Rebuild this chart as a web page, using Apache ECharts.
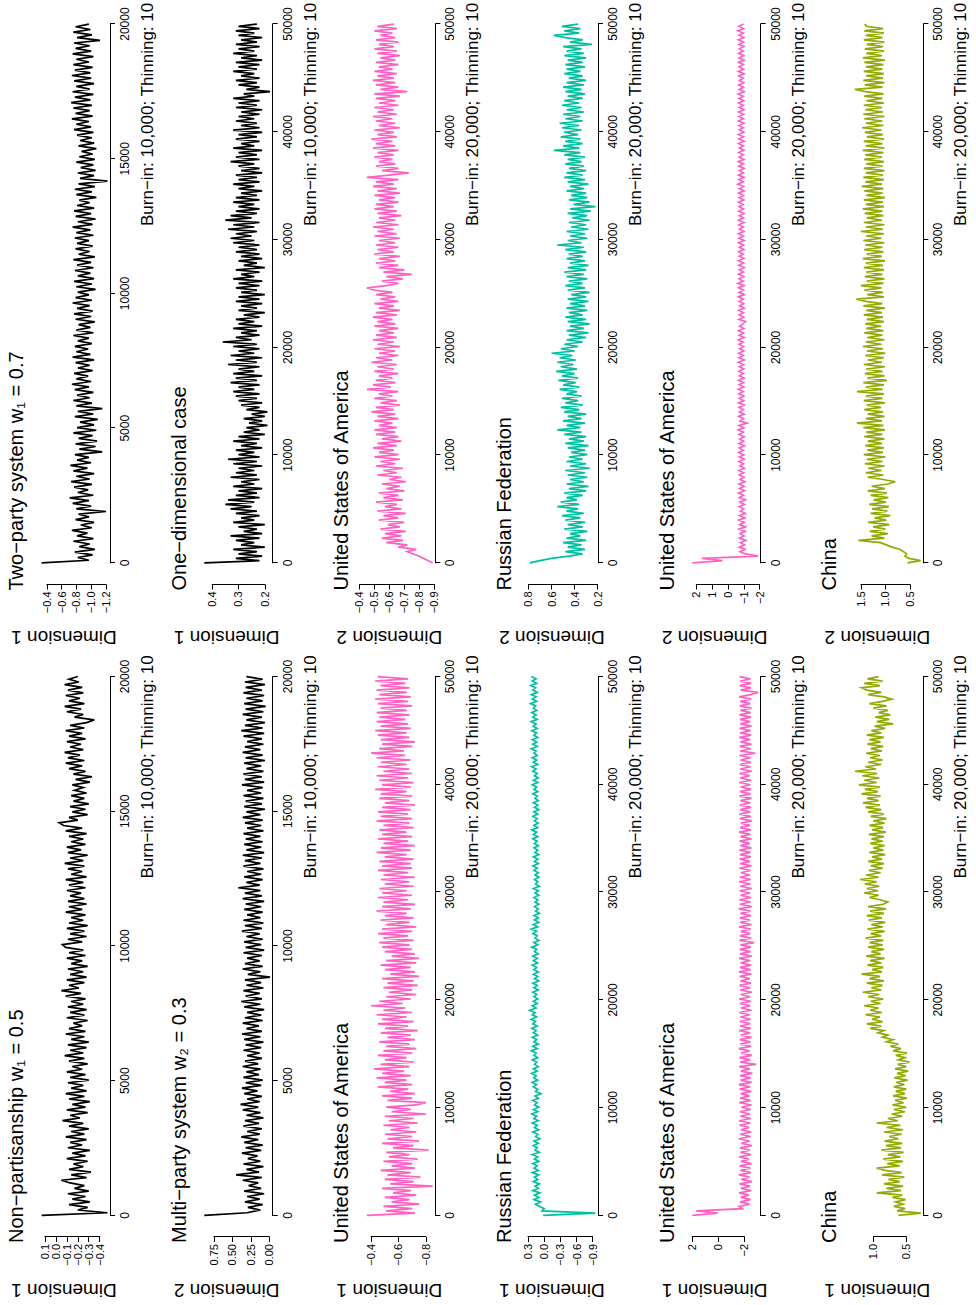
<!DOCTYPE html>
<html><head><meta charset="utf-8">
<script src="https://cdn.jsdelivr.net/npm/echarts/dist/echarts.min.js"></script>
<style>
html,body{margin:0;padding:0;background:#fff;overflow:hidden;width:976px;height:1305px;}
#wrap{position:absolute;left:0;top:0;width:1305px;height:976px;transform-origin:0 0;transform:translateY(1305px) rotate(-90deg);background:#fff;}
</style></head><body>
<div id="wrap"></div>
<script>
// ---------------- data ----------------
const nonPartisanDim1 = [
0.13,-0.47,-0.20,-0.29,-0.12,-0.31,-0.15,-0.27,-0.11,-0.30,-0.17,-0.26,-0.13,-0.05,-0.28,-0.14,-0.32,-0.12,-0.25,-0.16,
-0.29,-0.10,-0.27,-0.15,-0.31,-0.11,-0.24,-0.13,-0.28,-0.09,-0.26,-0.14,-0.30,-0.12,-0.25,-0.06,-0.22,-0.13,-0.29,-0.10,
-0.27,-0.15,-0.31,-0.12,-0.26,-0.09,-0.28,-0.14,-0.25,-0.11,-0.30,-0.13,-0.27,-0.10,-0.24,-0.15,-0.29,-0.12,-0.26,-0.08,
-0.25,-0.13,-0.28,-0.11,-0.30,-0.14,-0.26,-0.09,-0.27,-0.12,-0.24,-0.16,-0.29,-0.10,-0.26,-0.13,-0.28,-0.11,-0.25,-0.14,
-0.27,-0.09,-0.23,-0.05,-0.21,-0.12,-0.26,-0.10,-0.28,-0.13,-0.25,-0.11,-0.29,-0.14,-0.24,-0.10,-0.27,-0.12,-0.25,-0.09,
-0.06,-0.24,-0.11,-0.28,-0.13,-0.26,-0.10,-0.29,-0.12,-0.25,-0.14,-0.27,-0.09,-0.24,-0.12,-0.28,-0.11,-0.26,-0.13,-0.23,
-0.10,-0.27,-0.12,-0.25,-0.09,-0.28,-0.14,-0.24,-0.11,-0.26,-0.08,-0.25,-0.13,-0.29,-0.11,-0.23,-0.10,-0.27,-0.14,-0.25,
-0.12,-0.28,-0.09,-0.24,-0.07,-0.03,-0.20,-0.12,-0.29,-0.15,-0.27,-0.13,-0.30,-0.16,-0.26,-0.14,-0.28,-0.17,-0.25,-0.15,
-0.31,-0.18,-0.33,-0.16,-0.27,-0.12,-0.24,-0.09,-0.26,-0.11,-0.22,-0.08,-0.25,-0.13,-0.23,-0.10,-0.27,-0.12,-0.24,-0.09,
-0.26,-0.13,-0.28,-0.35,-0.17,-0.25,-0.10,-0.23,-0.08,-0.26,-0.12,-0.22,-0.09,-0.25,-0.11,-0.24,-0.08,-0.21,-0.12,-0.20];
const twoPartyDim1 = [
-0.33,-0.97,-0.82,-1.02,-0.78,-1.05,-0.84,-0.98,-0.76,-1.03,-0.81,-0.95,-0.74,-1.01,-0.86,-1.04,-0.79,-0.97,-0.83,-1.20,
-0.80,-1.00,-0.75,-0.97,-0.71,-1.03,-0.82,-0.96,-0.77,-1.01,-0.73,-0.98,-0.80,-1.04,-0.76,-0.95,-0.72,-1.00,-0.81,-0.97,
-0.78,-1.15,-0.84,-1.06,-0.79,-1.08,-0.83,-1.02,-0.76,-1.07,-0.81,-1.04,-0.85,-1.09,-0.78,-1.03,-0.82,-1.15,-0.80,-1.01,
-0.76,-0.98,-0.81,-1.03,-0.78,-0.97,-0.74,-1.00,-0.80,-0.96,-0.77,-1.02,-0.82,-0.98,-0.79,-1.04,-0.75,-0.99,-0.80,-0.96,
-0.78,-1.01,-0.82,-0.97,-0.76,-1.03,-0.80,-0.99,-0.83,-1.05,-0.79,-1.00,-0.77,-1.02,-0.81,-0.98,-0.75,-1.01,-0.79,-0.97,
-0.82,-1.06,-0.80,-1.01,-0.77,-1.04,-0.82,-0.99,-0.78,-1.03,-0.81,-1.00,-0.76,-1.05,-0.83,-0.98,-0.79,-1.02,-0.81,-0.97,
-0.78,-1.03,-0.80,-0.99,-0.75,-1.02,-0.82,-1.06,-0.79,-1.00,-0.77,-1.04,-0.81,-0.98,-0.84,-1.07,-0.80,-1.01,-0.78,-1.05,
-0.83,-1.22,-0.85,-1.04,-0.82,-1.06,-0.86,-1.03,-0.80,-1.05,-0.84,-1.02,-0.87,-1.07,-0.83,-1.04,-0.85,-1.01,-0.81,-1.03,
-0.77,-1.00,-0.80,-0.97,-0.74,-1.02,-0.79,-0.98,-0.76,-1.01,-0.73,-0.99,-0.78,-1.03,-0.75,-0.98,-0.80,-1.04,-0.77,-1.00,
-0.74,-0.99,-0.78,-1.02,-0.76,-0.97,-0.80,-1.03,-0.75,-1.00,-0.79,-0.98,-0.77,-1.12,-0.81,-1.01,-0.76,-0.99,-0.79,-0.97];
const multiPartyDim2 = [
0.88,0.30,0.12,0.29,0.09,0.33,0.13,0.30,0.07,0.34,0.11,0.28,0.15,0.36,0.10,0.45,0.14,0.31,0.08,0.35,
0.12,0.29,0.16,0.37,0.11,0.32,0.09,0.34,0.15,0.38,0.13,0.30,0.10,0.35,0.14,0.33,0.08,0.31,0.12,0.36,
0.15,0.39,0.13,0.30,0.10,0.34,0.16,0.37,0.11,0.32,0.09,0.35,0.14,0.31,0.12,0.36,0.15,0.33,0.10,0.30,
0.13,0.35,0.11,0.32,0.08,0.34,0.12,0.37,0.10,0.31,0.14,0.36,0.09,0.33,0.11,0.30,0.07,0.34,0.12,0.38,
0.10,0.32,0.13,0.35,0.08,0.31,0.11,0.33,-0.01,0.29,0.12,0.36,0.09,0.33,0.13,0.30,0.10,0.35,0.07,0.32,
0.11,0.34,0.09,0.31,0.13,0.37,0.10,0.33,0.08,0.35,0.12,0.30,0.09,0.34,0.11,0.32,0.07,0.36,0.10,0.33,
0.12,0.42,0.13,0.31,0.09,0.34,0.11,0.30,0.08,0.35,0.12,0.33,0.10,0.36,0.07,0.31,0.11,0.34,0.09,0.32,
0.12,0.35,0.08,0.30,0.11,0.33,0.09,0.36,0.12,0.31,0.06,0.34,0.10,0.32,0.08,0.35,0.11,0.30,0.09,0.37,
0.07,0.33,0.10,0.35,0.08,0.31,0.11,0.34,0.06,0.32,0.09,0.36,0.12,0.33,0.08,0.30,0.10,0.35,0.07,0.38,
0.09,0.33,0.06,0.31,0.10,0.36,0.08,0.32,0.05,0.34,0.09,0.31,0.07,0.35,0.10,0.32,0.06,0.33,0.09,0.31];
const oneDimDim1 = [
0.43,0.22,0.31,0.21,0.30,0.23,0.32,0.20,0.29,0.24,0.31,0.22,0.33,0.21,0.28,0.23,0.30,0.20,0.32,0.24,
0.29,0.22,0.31,0.23,0.33,0.25,0.35,0.24,0.34,0.22,0.31,0.23,0.30,0.21,0.32,0.24,0.29,0.22,0.33,0.23,
0.31,0.24,0.30,0.21,0.32,0.23,0.34,0.22,0.30,0.24,0.31,0.21,0.29,0.23,0.32,0.22,0.30,0.20,0.28,0.22,
0.27,0.19,0.26,0.21,0.28,0.20,0.25,0.19,0.27,0.22,0.29,0.21,0.30,0.23,0.31,0.22,0.32,0.24,0.30,0.22,
0.33,0.23,0.31,0.21,0.32,0.24,0.30,0.22,0.34,0.23,0.31,0.21,0.33,0.24,0.30,0.22,0.32,0.23,0.36,0.25,
0.31,0.22,0.29,0.23,0.32,0.21,0.30,0.24,0.31,0.22,0.28,0.20,0.30,0.23,0.29,0.21,0.31,0.22,0.30,0.20,
0.29,0.23,0.31,0.22,0.30,0.21,0.32,0.24,0.29,0.22,0.31,0.20,0.28,0.23,0.30,0.21,0.29,0.22,0.31,0.23,
0.30,0.22,0.32,0.24,0.33,0.25,0.31,0.23,0.34,0.24,0.32,0.22,0.35,0.25,0.33,0.23,0.31,0.22,0.30,0.24,
0.32,0.22,0.31,0.23,0.29,0.21,0.30,0.24,0.32,0.22,0.30,0.23,0.31,0.21,0.29,0.22,0.30,0.24,0.33,0.22,
0.31,0.23,0.30,0.21,0.32,0.24,0.29,0.22,0.31,0.23,0.30,0.21,0.32,0.22,0.29,0.23,0.31,0.24,0.30,0.22,
0.29,0.21,0.31,0.23,0.30,0.22,0.32,0.24,0.28,0.18,0.27,0.22,0.30,0.23,0.31,0.22,0.29,0.24,0.32,0.23,
0.30,0.22,0.31,0.21,0.29,0.23,0.32,0.24,0.30,0.22,0.31,0.23,0.29,0.21,0.30,0.24,0.31,0.22,0.30,0.23];
const usaDim1 = [
-0.37,-0.72,-0.51,-0.70,-0.49,-0.75,-0.55,-0.68,-0.50,-0.73,-0.56,-0.69,-0.48,-0.85,-0.54,-0.71,-0.50,-0.76,-0.52,-0.69,
-0.47,-0.72,-0.55,-0.70,-0.49,-0.74,-0.53,-0.68,-0.51,-0.82,-0.56,-0.71,-0.48,-0.75,-0.52,-0.70,-0.50,-0.73,-0.54,-0.68,
-0.49,-0.74,-0.53,-0.71,-0.50,-0.80,-0.55,-0.69,-0.51,-0.73,-0.80,-0.52,-0.70,-0.48,-0.72,-0.54,-0.67,-0.45,-0.70,-0.50,
-0.66,-0.44,-0.69,-0.48,-0.64,-0.42,-0.68,-0.47,-0.71,-0.50,-0.66,-0.45,-0.70,-0.49,-0.73,-0.51,-0.68,-0.46,-0.72,-0.52,
-0.69,-0.47,-0.74,-0.50,-0.67,-0.45,-0.71,-0.48,-0.66,-0.44,-0.70,-0.49,-0.65,-0.40,-0.63,-0.46,-0.69,-0.51,-0.73,-0.53,
-0.70,-0.49,-0.74,-0.52,-0.71,-0.48,-0.75,-0.54,-0.72,-0.50,-0.69,-0.47,-0.73,-0.51,-0.75,-0.55,-0.72,-0.50,-0.70,-0.48,
-0.68,-0.46,-0.71,-0.49,-0.67,-0.45,-0.70,-0.48,-0.73,-0.51,-0.68,-0.47,-0.71,-0.50,-0.66,-0.44,-0.69,-0.48,-0.72,-0.49,
-0.67,-0.45,-0.70,-0.48,-0.66,-0.46,-0.71,-0.50,-0.68,-0.47,-0.72,-0.49,-0.67,-0.45,-0.70,-0.48,-0.69,-0.46,-0.71,-0.50,
-0.66,-0.44,-0.69,-0.47,-0.72,-0.49,-0.67,-0.45,-0.70,-0.48,-0.66,-0.46,-0.71,-0.49,-0.68,-0.44,-0.70,-0.47,-0.67,-0.45,
-0.69,-0.48,-0.72,-0.50,-0.68,-0.46,-0.70,-0.47,-0.66,-0.43,-0.69,-0.48,-0.71,-0.46,-0.67,-0.44,-0.70,-0.49,-0.68,-0.45,
-0.66,-0.47,-0.69,-0.44,-0.65,-0.40,-0.64,-0.46,-0.70,-0.48,-0.72,-0.47,-0.68,-0.45,-0.66,-0.43,-0.69,-0.47,-0.67,-0.44,
-0.65,-0.46,-0.68,-0.44,-0.66,-0.47,-0.70,-0.45,-0.67,-0.43,-0.69,-0.46,-0.66,-0.44,-0.68,-0.47,-0.65,-0.43,-0.67,-0.45];
const usaDim2 = [
-0.89,-0.86,-0.83,-0.80,-0.76,-0.72,-0.78,-0.66,-0.72,-0.58,-0.69,-0.55,-0.68,-0.57,-0.71,-0.54,-0.67,-0.59,-0.70,-0.53,
-0.66,-0.56,-0.71,-0.52,-0.68,-0.57,-0.65,-0.51,-0.69,-0.56,-0.66,-0.53,-0.70,-0.58,-0.67,-0.55,-0.71,-0.60,-0.68,-0.52,
-0.65,-0.56,-0.69,-0.51,-0.64,-0.54,-0.67,-0.50,-0.66,-0.53,-0.63,-0.49,-0.65,-0.52,-0.68,-0.55,-0.66,-0.51,-0.64,-0.50,
-0.65,-0.53,-0.62,-0.50,-0.66,-0.52,-0.64,-0.48,-0.63,-0.51,-0.67,-0.54,-0.65,-0.50,-0.62,-0.53,-0.66,-0.45,-0.61,-0.49,
-0.64,-0.51,-0.62,-0.53,-0.66,-0.50,-0.63,-0.52,-0.65,-0.48,-0.62,-0.51,-0.66,-0.53,-0.64,-0.50,-0.67,-0.52,-0.63,-0.49,
-0.65,-0.51,-0.63,-0.53,-0.66,-0.50,-0.64,-0.52,-0.62,-0.49,-0.65,-0.51,-0.67,-0.53,-0.63,-0.50,-0.66,-0.54,-0.64,-0.51,
-0.62,-0.50,-0.45,-0.58,-0.66,-0.55,-0.69,-0.58,-0.75,-0.56,-0.70,-0.53,-0.66,-0.51,-0.64,-0.53,-0.67,-0.50,-0.63,-0.52,
-0.66,-0.51,-0.64,-0.53,-0.67,-0.50,-0.65,-0.52,-0.63,-0.49,-0.66,-0.51,-0.64,-0.53,-0.68,-0.52,-0.65,-0.50,-0.63,-0.51,
-0.66,-0.53,-0.64,-0.50,-0.67,-0.52,-0.65,-0.49,-0.63,-0.51,-0.66,-0.45,-0.60,-0.73,-0.55,-0.66,-0.51,-0.64,-0.53,-0.62,
-0.50,-0.63,-0.52,-0.66,-0.49,-0.64,-0.51,-0.62,-0.48,-0.65,-0.52,-0.63,-0.50,-0.67,-0.53,-0.64,-0.51,-0.62,-0.49,-0.65,
-0.52,-0.63,-0.50,-0.66,-0.53,-0.64,-0.51,-0.67,-0.50,-0.72,-0.54,-0.66,-0.51,-0.64,-0.49,-0.63,-0.52,-0.65,-0.50,-0.62,
-0.53,-0.66,-0.51,-0.64,-0.54,-0.67,-0.52,-0.65,-0.50,-0.63,-0.53,-0.66,-0.51,-0.64,-0.54,-0.62,-0.50,-0.65,-0.52,-0.63];
const russiaDim1 = [
0.02,-0.95,0.04,0.00,0.08,0.16,0.07,0.19,0.10,0.18,0.08,0.21,0.11,0.17,0.09,0.20,0.12,0.18,0.10,0.22,
0.11,0.19,0.13,0.21,0.10,0.18,0.12,0.22,0.09,0.17,0.13,0.20,0.11,0.19,0.08,0.16,0.12,0.21,0.10,0.18,
0.13,0.22,0.11,0.19,0.14,0.23,0.12,0.20,0.10,0.18,0.13,0.21,0.11,0.17,0.06,0.16,0.12,0.20,0.14,0.22,
0.12,0.19,0.15,0.23,0.13,0.20,0.11,0.18,0.14,0.22,0.12,0.19,0.15,0.24,0.13,0.21,0.11,0.19,0.14,0.22,
0.12,0.20,0.15,0.23,0.13,0.21,0.16,0.24,0.14,0.22,0.17,0.27,0.15,0.22,0.13,0.20,0.12,0.19,0.14,0.21,
0.11,0.19,0.13,0.21,0.10,0.18,0.12,0.20,0.11,0.19,0.14,0.22,0.12,0.20,0.13,0.21,0.11,0.18,0.14,0.23,
0.12,0.19,0.10,0.17,0.13,0.21,0.14,0.24,0.12,0.20,0.10,0.18,0.11,0.19,0.09,0.16,0.11,0.18,0.10,0.17,
0.12,0.19,0.10,0.17,0.11,0.20,0.09,0.16,0.12,0.18,0.10,0.17,0.11,0.19,0.13,0.21,0.11,0.18,0.12,0.20,
0.10,0.17,0.12,0.19,0.11,0.18,0.13,0.21,0.12,0.20,0.14,0.23,0.12,0.19,0.11,0.18,0.13,0.21,0.12,0.19,
0.10,0.18,0.12,0.20,0.11,0.17,0.13,0.21,0.12,0.19,0.14,0.22,0.12,0.20,0.11,0.18,0.13,0.21,0.15,0.23,
0.12,0.20,0.14,0.22,0.13,0.19,0.15,0.24,0.13,0.21,0.14,0.22,0.12,0.19,0.14,0.23,0.13,0.20,0.15,0.24,
0.13,0.21,0.15,0.23,0.14,0.20,0.16,0.25,0.14,0.22,0.15,0.24,0.13,0.21,0.16,0.25,0.14,0.22,0.15,0.24];
const russiaDim2 = [
0.79,0.70,0.60,0.45,0.33,0.48,0.31,0.46,0.34,0.50,0.30,0.47,0.35,0.44,0.29,0.49,0.33,0.46,0.31,0.48,
0.35,0.51,0.32,0.47,0.37,0.55,0.36,0.52,0.38,0.47,0.33,0.49,0.30,0.45,0.28,0.47,0.32,0.44,0.29,0.46,
0.31,0.48,0.27,0.44,0.30,0.47,0.33,0.45,0.29,0.43,0.31,0.46,0.28,0.48,0.32,0.45,0.30,0.49,0.34,0.55,
0.35,0.47,0.31,0.50,0.34,0.46,0.30,0.49,0.36,0.52,0.33,0.48,0.37,0.51,0.34,0.47,0.38,0.53,0.36,0.50,
0.39,0.54,0.37,0.51,0.40,0.56,0.38,0.52,0.41,0.55,0.39,0.53,0.42,0.60,0.40,0.52,0.37,0.49,0.33,0.47,
0.30,0.45,0.28,0.47,0.32,0.44,0.27,0.46,0.30,0.48,0.33,0.45,0.29,0.47,0.31,0.44,0.28,0.46,0.30,0.43,
0.27,0.46,0.31,0.48,0.33,0.45,0.29,0.47,0.32,0.49,0.30,0.46,0.28,0.44,0.31,0.47,0.33,0.45,0.30,0.48,
0.32,0.55,0.34,0.46,0.29,0.44,0.31,0.47,0.28,0.43,0.30,0.45,0.27,0.42,0.29,0.46,0.26,0.44,0.22,0.41,
0.27,0.45,0.29,0.43,0.30,0.47,0.32,0.44,0.28,0.46,0.31,0.49,0.33,0.47,0.30,0.45,0.32,0.48,0.34,0.46,
0.31,0.49,0.35,0.58,0.36,0.50,0.33,0.48,0.35,0.52,0.37,0.49,0.34,0.51,0.36,0.53,0.33,0.48,0.35,0.50,
0.32,0.47,0.34,0.51,0.36,0.49,0.33,0.46,0.31,0.48,0.34,0.50,0.32,0.47,0.30,0.45,0.33,0.49,0.35,0.47,
0.31,0.48,0.33,0.46,0.30,0.49,0.32,0.47,0.34,0.50,0.25,0.44,0.33,0.48,0.58,0.36,0.49,0.35,0.51,0.37];
const usaWideDim1 = [
2.00,0.05,1.70,-1.85,-1.60,-2.40,-1.68,-2.48,-1.72,-2.35,-1.60,-2.52,-1.75,-2.44,-1.63,-2.58,-1.78,-2.40,-1.58,-2.50,
-1.70,-2.46,-1.64,-2.55,-1.74,-2.36,-1.61,-2.49,-1.71,-2.42,-1.66,-2.57,-1.77,-2.41,-1.56,-2.47,-1.68,-2.53,-1.73,-2.38,
-1.62,-2.45,-1.59,-2.51,-1.70,-2.43,-1.65,-2.49,-1.76,-2.55,-1.61,-2.46,-1.68,-2.40,-1.72,-2.52,-1.64,-2.44,-1.58,-2.56,
-1.70,-2.48,-1.66,-2.61,-1.74,-2.42,-1.60,-2.90,-1.68,-2.45,-1.62,-2.57,-1.76,-2.40,-1.58,-2.52,-1.70,-2.46,-1.65,-2.54,
-1.72,-2.44,-1.60,-2.50,-1.68,-2.47,-1.64,-2.48,-1.70,-2.42,-1.62,-2.56,-1.74,-2.46,-1.66,-2.52,-1.60,-2.44,-1.72,-2.58,
-1.68,-2.46,-1.62,-2.50,-1.70,-2.42,-1.64,-2.54,-1.58,-2.48,-1.66,-2.52,-1.72,-2.44,-1.60,-2.56,-1.68,-2.46,-1.64,-2.50,
-1.70,-2.75,-1.62,-2.52,-1.66,-2.44,-1.72,-2.48,-1.60,-2.54,-1.68,-2.42,-1.64,-2.50,-1.70,-2.46,-1.58,-2.56,-1.66,-2.48,
-1.62,-2.52,-1.70,-2.44,-1.64,-2.58,-1.68,-2.46,-1.60,-2.50,-1.66,-2.43,-1.72,-2.48,-1.62,-2.54,-1.68,-2.44,-1.64,-2.50,
-1.66,-2.47,-1.61,-2.53,-1.69,-2.41,-1.63,-2.55,-1.71,-2.45,-1.59,-2.51,-1.67,-2.43,-1.73,-2.57,-1.65,-2.49,-1.61,-2.46,
-1.68,-2.52,-1.64,-2.44,-1.70,-2.55,-1.62,-2.47,-1.66,-2.53,-1.72,-2.45,-1.60,-2.51,-1.68,-2.42,-1.63,-2.56,-1.69,-2.48,
-1.65,-2.50,-1.71,-2.46,-1.62,-2.85,-1.68,-2.49,-1.64,-2.53,-1.70,-2.44,-1.61,-2.52,-1.67,-2.47,-1.63,-2.55,-1.69,-2.45,
-1.66,-2.51,-1.62,-2.48,-1.70,-2.54,-1.64,-2.45,-1.68,-2.52,-1.60,-2.47,-3.05,-1.72,-2.50,-1.65,-2.53,-1.69,-2.46,-1.63];
const usaWideDim2 = [
2.25,0.35,1.65,-1.90,-1.10,-0.76,-1.08,-0.71,-1.05,-0.79,-1.13,-0.73,-1.01,-0.77,-1.09,-0.70,-1.11,-0.75,-1.03,-0.69,
-1.06,-0.74,-1.09,-0.79,-0.99,-0.71,-1.04,-0.76,-1.10,-0.72,-0.98,-0.67,-1.05,-0.74,-1.01,-0.70,-1.07,-0.77,-1.02,-0.72,
-0.99,-0.70,-1.04,-0.75,-0.97,-0.69,-1.03,-0.73,-1.00,-0.68,-0.96,-0.72,-1.04,-0.69,-0.99,-0.74,-1.03,-0.70,-0.97,-0.66,
-1.01,-0.71,-1.20,-0.76,-0.98,-0.68,-1.02,-0.73,-0.97,-0.70,-1.03,-0.67,-0.99,-0.72,-1.01,-0.69,-0.96,-0.65,-1.00,-0.71,
-0.98,-0.67,-1.02,-0.73,-0.96,-0.69,-1.01,-0.72,-0.98,-0.66,-1.03,-0.70,-0.97,-0.68,-1.00,-0.74,-0.99,-0.70,-0.95,-0.66,
-1.02,-0.71,-0.98,-0.67,-1.01,-0.73,-0.96,-1.12,-0.69,-1.00,-0.72,-0.97,-0.68,-1.03,-0.74,-0.99,-0.70,-0.95,-0.66,-1.02,
-0.72,-0.98,-0.68,-1.01,-0.63,-0.96,-0.70,-1.00,-0.67,-0.97,-0.73,-1.02,-0.69,-0.98,-0.66,-1.01,-0.71,-0.96,-0.68,-1.00,
-0.72,-0.97,-0.67,-1.03,-0.70,-0.98,-0.66,-1.00,-0.73,-0.96,-0.69,-1.02,-0.67,-0.97,-0.72,-1.01,-0.68,-0.99,-0.70,-0.95,
-0.66,-1.00,-0.71,-0.97,-0.68,-1.02,-0.73,-0.98,-0.62,-0.96,-0.70,-1.01,-0.67,-0.97,-0.72,-1.03,-0.69,-0.98,-0.66,-1.00,
-0.71,-0.96,-0.68,-1.01,-0.72,-0.97,-0.67,-1.02,-0.70,-0.98,-0.66,-1.00,-0.73,-0.96,-0.69,-1.01,-0.67,-0.97,-0.70,-0.99,
-0.68,-1.01,-0.72,-0.96,-0.67,-1.00,-0.70,-0.97,-0.65,-1.02,-0.71,-0.98,-0.68,-1.00,-0.73,-0.96,-0.69,-1.01,-0.66,-0.98,
-0.70,-0.97,-0.67,-1.02,-0.71,-0.99,-0.68,-0.96,-0.72,-1.01,-0.69,-0.98,-0.66,-1.00,-0.71,-0.97,-0.62,-0.99,-0.70,-0.98];
const chinaDim1 = [
0.62,0.28,0.64,0.52,0.69,0.55,0.66,0.51,0.71,0.56,0.95,0.58,0.80,0.55,0.84,0.60,0.77,0.53,0.87,0.57,
0.82,0.95,0.60,0.79,0.55,0.85,0.59,0.78,0.54,0.88,0.58,0.81,0.56,0.83,0.62,0.76,0.57,0.84,0.55,0.80,
0.59,0.95,0.63,0.78,0.56,0.72,0.52,0.69,0.50,0.71,0.54,0.67,0.49,0.70,0.52,0.66,0.50,0.69,0.53,0.65,
0.48,0.68,0.51,0.64,0.47,0.67,0.50,0.63,0.45,0.62,0.52,0.66,0.49,0.70,0.58,0.74,0.62,0.80,0.70,0.86,
0.78,0.93,0.84,1.05,0.88,1.10,0.86,1.02,0.90,1.12,0.87,1.05,0.92,1.14,0.89,1.04,0.85,1.08,0.91,1.16,
0.88,1.03,0.86,1.10,0.84,1.06,0.90,1.18,0.87,1.02,0.85,1.09,0.88,1.05,0.83,1.11,0.89,1.03,0.84,1.08,
0.86,1.06,0.85,1.12,0.88,1.04,0.83,1.09,0.86,1.03,0.82,1.07,0.87,1.10,0.84,1.05,0.81,1.08,0.85,0.78,
0.90,1.06,0.92,1.14,0.93,1.10,0.91,1.13,0.95,1.20,0.92,1.11,0.89,1.07,0.86,1.04,0.84,1.08,0.87,1.02,
0.82,1.06,0.85,1.00,0.83,1.05,0.86,1.03,0.84,1.07,0.81,1.02,0.85,1.06,0.83,1.00,0.80,1.04,0.84,1.08,
0.88,1.12,0.90,1.16,0.92,1.10,0.89,1.18,0.93,1.13,0.90,1.22,0.95,1.14,0.91,1.17,0.94,1.28,0.96,1.12,
0.88,1.08,0.86,1.05,0.90,1.11,0.87,1.04,0.85,1.09,0.89,1.06,0.84,1.10,0.88,1.03,0.82,0.98,0.70,0.95,
0.76,0.97,0.74,0.92,0.78,1.00,0.80,1.06,0.86,0.72,0.84,1.08,0.88,1.10,1.18,0.90,1.14,0.86,1.09,0.92];
const chinaDim2 = [
0.55,0.28,0.52,0.60,0.57,0.63,0.70,0.86,0.98,1.10,1.55,1.02,1.28,0.95,1.32,1.00,1.25,0.92,1.35,0.98,
1.22,0.90,1.30,0.96,1.27,0.93,1.33,0.99,1.24,0.94,1.30,0.97,1.36,1.01,1.28,0.95,0.80,1.05,1.36,1.04,
1.40,1.08,1.35,1.02,1.42,1.06,1.38,1.00,1.44,1.05,1.37,1.03,1.41,1.07,1.36,1.02,1.43,1.06,1.39,1.01,
1.45,1.04,1.58,1.07,1.40,1.02,1.36,1.05,1.43,1.09,1.38,1.01,1.44,1.06,1.40,1.03,1.58,1.06,1.40,1.03,
1.45,0.97,1.37,1.02,1.42,1.06,1.39,1.01,1.44,1.07,1.36,1.03,1.41,1.00,1.38,1.05,1.46,1.08,1.40,1.02,
1.37,1.06,1.43,1.04,1.39,1.09,1.41,1.03,1.38,1.05,1.44,1.07,1.39,1.01,1.45,1.06,1.40,1.59,1.03,1.37,
1.05,1.43,1.08,1.50,1.04,1.38,1.02,1.42,1.06,1.39,1.03,1.44,1.05,1.40,1.01,1.46,1.07,1.38,1.04,1.43,
1.06,1.41,1.02,1.45,1.08,1.39,1.03,1.50,1.05,1.40,1.02,1.44,1.07,1.38,1.04,1.42,1.06,1.46,1.03,1.40,
1.05,1.44,1.01,1.39,1.06,1.43,1.04,1.48,1.07,1.41,1.03,1.45,1.05,1.40,1.02,1.44,1.06,1.39,1.03,1.43,
1.07,1.41,1.04,1.46,1.02,1.40,1.06,1.44,1.03,1.38,1.05,1.42,1.08,1.47,1.04,1.40,1.06,1.43,1.02,1.45,
1.05,1.41,1.07,1.44,1.03,1.39,1.06,1.43,1.04,1.40,1.62,1.06,1.42,1.02,1.45,1.05,1.39,1.03,1.44,1.06,
1.40,1.04,1.43,1.01,1.46,1.07,1.39,1.03,1.42,1.05,1.38,1.02,1.44,1.06,1.40,1.03,1.43,1.05,1.39,1.42];

// panel titles, axis names, iteration counts and tick values
const titles = ["Non\u2212partisanship w\u2081 = 0.5","Two\u2212party system w\u2081 = 0.7",
  "Multi\u2212party system w\u2082 = 0.3","One\u2212dimensional case",
  "United States of America","United States of America",
  "Russian Federation","Russian Federation",
  "United States of America","United States of America",
  "China","China"];
const dimNames = ["Dimension 1","Dimension 1","Dimension 2","Dimension 1","Dimension 1","Dimension 2",
  "Dimension 1","Dimension 2","Dimension 1","Dimension 2","Dimension 1","Dimension 2"];
const iterations = [20000,20000,20000,50000,50000,50000,50000,50000,50000,50000,50000,50000];
const xTickStep = [5000,5000,5000,10000,10000,10000,10000,10000,10000,10000,10000,10000];
const burnNotes = ["Burn\u2212in: 10,000; Thinning: 10","Burn\u2212in: 10,000; Thinning: 10",
  "Burn\u2212in: 10,000; Thinning: 10","Burn\u2212in: 10,000; Thinning: 10",
  "Burn\u2212in: 20,000; Thinning: 10","Burn\u2212in: 20,000; Thinning: 10",
  "Burn\u2212in: 20,000; Thinning: 10","Burn\u2212in: 20,000; Thinning: 10",
  "Burn\u2212in: 20,000; Thinning: 10","Burn\u2212in: 20,000; Thinning: 10",
  "Burn\u2212in: 20,000; Thinning: 10","Burn\u2212in: 20,000; Thinning: 10"];
// y tick values: [min, max, step, decimals]
const yTicks = [[-0.4,0.1,0.1,1],[-1.2,-0.4,0.2,1],[0,0.75,0.25,2],[0.2,0.4,0.1,1],
  [-0.8,-0.4,0.2,1],[-0.9,-0.4,0.1,1],[-0.9,0.3,0.3,1],[0.2,0.8,0.2,1],
  [-2,2,2,0],[-2,2,1,0],[0.5,1.0,0.5,1],[0.5,1.5,0.5,1]];
const series = [nonPartisanDim1,twoPartyDim1,multiPartyDim2,oneDimDim1,usaDim1,usaDim2,
  russiaDim1,russiaDim2,usaWideDim1,usaWideDim2,chinaDim1,chinaDim2];
const colors = ["#000000","#000000","#000000","#000000","#FF61C3","#FF61C3",
  "#00C19F","#00C19F","#FF61C3","#FF61C3","#93AA00","#93AA00"];

// ---------------- layout (landscape page, rotated into the portrait window) ----------------
const PAGE_W = 1305, PAGE_H = 976;
const COL_W = 652.5, ROW_H = 162.67;
const PL = 68, PW = 582, PT = 39, PH = 71;
const FONT = "'Liberation Sans', Arial, Helvetica, sans-serif";
const TXT = '#000';

function fmtY(v, d){
  let s = Number(v).toFixed(d);
  if (/^-0(\.0+)?$/.test(s)) s = s.slice(1);
  return s.replace('-', '\u2212');
}

const grid = [], xAxis = [], yAxis = [], seriesOpt = [], title = [], graphic = [];
series.forEach((vals, p) => {
  const row = Math.floor(p / 2), col = p % 2;
  const X0 = col * COL_W, Y0 = row * ROW_H;
  const N = iterations[p];
  const lo0 = Math.min(...vals), hi0 = Math.max(...vals);
  const pad = 0.04 * (hi0 - lo0);
  const lo = lo0 - pad, hi = hi0 + pad;
  const [tmin, tmax, tstep, dec] = yTicks[p];
  const g = grid.length;
  grid.push({left: X0 + PL, top: Y0 + PT, width: PW, height: PH});
  xAxis.push({gridIndex: g, type: 'value', min: -0.04 * N, max: 1.04 * N, show: false});
  yAxis.push({gridIndex: g, type: 'value', min: lo, max: hi, show: false});
  grid.push({left: X0 + PL + PW * 0.04 / 1.08, top: Y0 + PT, width: PW / 1.08, height: PH});
  xAxis.push({gridIndex: g + 1, type: 'value', min: 0, max: N, interval: xTickStep[p], position: 'bottom',
    axisLine: {show: true, lineStyle: {color: TXT, width: 1}},
    axisTick: {show: true, length: 5, lineStyle: {color: TXT, width: 1}},
    axisLabel: {fontSize: 12, color: TXT, fontFamily: FONT, margin: 9, hideOverlap: false,
      showMinLabel: true, showMaxLabel: true, formatter: v => String(Math.round(v))},
    splitLine: {show: false}});
  yAxis.push({gridIndex: g + 1, type: 'value', min: 0, max: 1, show: false});
  const yTop = Y0 + PT + (hi - tmax) / (hi - lo) * PH;
  const yH = (tmax - tmin) / (hi - lo) * PH;
  grid.push({left: X0 + PL, top: yTop, width: PW, height: yH});
  xAxis.push({gridIndex: g + 2, type: 'value', min: 0, max: 1, show: false});
  yAxis.push({gridIndex: g + 2, type: 'value', min: tmin, max: tmax, interval: tstep,
    axisLine: {show: true, lineStyle: {color: TXT, width: 1}},
    axisTick: {show: true, length: 5, lineStyle: {color: TXT, width: 1}},
    axisLabel: {fontSize: 11, color: TXT, fontFamily: FONT, margin: 7, hideOverlap: false,
      showMinLabel: true, showMaxLabel: true, formatter: v => fmtY(v, dec)},
    splitLine: {show: false}});
  const step = N / (vals.length - 1);
  seriesOpt.push({type: 'line', xAxisIndex: g, yAxisIndex: g, showSymbol: false, symbol: 'none',
    silent: true, animation: false,
    lineStyle: {color: colors[p], width: 1.7, join: 'miter'},
    data: vals.map((v, i) => [i * step, v])});
  title.push({text: titles[p], left: X0 + 62, top: Y0 + 6, padding: 0,
    textStyle: {fontSize: 20, fontWeight: 'normal', color: TXT, fontFamily: FONT}});
  title.push({text: burnNotes[p], right: PAGE_W - (X0 + 650), top: Y0 + 139, padding: 0,
    textStyle: {fontSize: 17, fontWeight: 'normal', color: TXT, fontFamily: FONT}});
  graphic.push({type: 'text', x: X0 + 15, y: Y0 + 64, rotation: Math.PI / 2, silent: true,
    style: {text: dimNames[p], fontSize: 19, fontFamily: FONT, fill: TXT,
      align: 'center', verticalAlign: 'middle', textAlign: 'center', textVerticalAlign: 'middle'}});
});

const chart = echarts.init(document.getElementById('wrap'), null, {renderer: 'svg', width: PAGE_W, height: PAGE_H});
chart.setOption({animation: false, backgroundColor: '#fff', title, grid, xAxis, yAxis, series: seriesOpt, graphic});
</script>
</body></html>
